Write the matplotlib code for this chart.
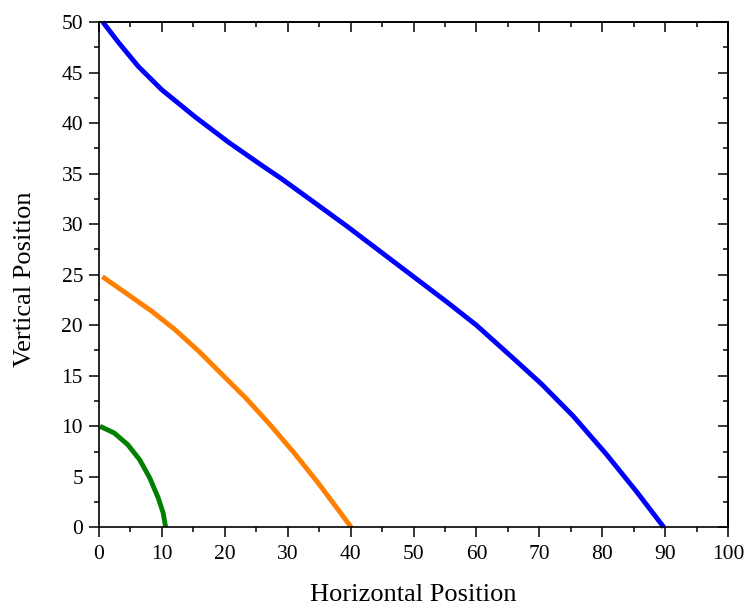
import matplotlib
matplotlib.use("Agg")
import matplotlib.pyplot as plt
from matplotlib.ticker import MultipleLocator

plt.rcParams['font.family'] = ['Liberation Serif', 'DejaVu Serif']

green_x = [0.16, 2.42, 4.57, 6.46, 8.07, 9.42, 10.2, 10.6]
green_y = [10.0, 9.33, 8.18, 6.69, 4.88, 2.9, 1.42, 0]

orange_x = [0.54, 4.57, 8.34, 12.1, 15.9, 19.6, 23.4, 27.2, 30.9, 34.7, 37.9, 40.1]
orange_y = [24.8, 23.05, 21.4, 19.55, 17.4, 15.1, 12.75, 10.15, 7.45, 4.5, 1.85, 0]

blue_x = [0.6, 3.07, 6.25, 9.97, 15.3, 20.6, 25.9, 29.0, 34.1, 39.4, 44.7, 50.0,
          55.3, 60.0, 65.9, 70.4, 75.4, 80.7, 85.5, 89.8]
blue_y = [50, 48.0, 45.6, 43.3, 40.6, 38.1, 35.8, 34.5, 32.2, 29.8, 27.3, 24.8,
          22.3, 20.0, 16.7, 14.15, 11.0, 7.2, 3.5, 0]

x_label = "Horizontal Position"
y_label = "Vertical Position"

W, H = 746, 606
L, R, T, B = 99, 728, 22, 527.3
fig = plt.figure(figsize=(W/100, H/100), dpi=100)
ax = fig.add_axes([L/W, 1-B/H, (R-L)/W, (B-T)/H])

lw = 3.5
kw = dict(lw=lw, solid_capstyle='butt', solid_joinstyle='round')
ax.plot(green_x, green_y, color='#008000', **kw)
ax.plot(orange_x, orange_y, color='#FF8000', **kw)
ax.plot(blue_x, blue_y, color='#0000FF', clip_on=False, **kw)

ax.set_xlim(0, 100)
ax.set_ylim(0, 50)
ax.xaxis.set_major_locator(MultipleLocator(10))
ax.xaxis.set_minor_locator(MultipleLocator(5))
ax.yaxis.set_major_locator(MultipleLocator(5))
ax.yaxis.set_minor_locator(MultipleLocator(2.5))

for s in ax.spines.values():
    s.set_linewidth(1.2)

ax.tick_params(which='both', direction='out', top=False, right=False, width=1.1, labelsize=15.5)
ax.tick_params(which='major', length=7)
ax.tick_params(which='minor', length=3.3)
ax.tick_params(axis='x', which='major', pad=6)
ax.tick_params(axis='y', which='major', pad=4.5)

secx = ax.secondary_xaxis('top')
secx.xaxis.set_major_locator(MultipleLocator(10))
secx.xaxis.set_minor_locator(MultipleLocator(5))
secx.tick_params(which='both', direction='in', width=1.1, labeltop=False)
secx.tick_params(which='major', length=7)
secx.tick_params(which='minor', length=3.3)
secx.spines['top'].set_linewidth(1.2)
secy = ax.secondary_yaxis('right')
secy.yaxis.set_major_locator(MultipleLocator(5))
secy.yaxis.set_minor_locator(MultipleLocator(2.5))
secy.tick_params(which='both', direction='in', width=1.1, labelright=False)
secy.tick_params(which='major', length=7)
secy.tick_params(which='minor', length=3.3)
secy.spines['right'].set_linewidth(1.2)

ax.set_xlabel(x_label, fontsize=19)
ax.set_ylabel(y_label, fontsize=19)
ax.xaxis.set_label_coords(0.5, (B-584)/(B-T))
ax.yaxis.set_label_coords((36-L)/(R-L), 0.49)

fig.savefig("out.png", dpi=100)
